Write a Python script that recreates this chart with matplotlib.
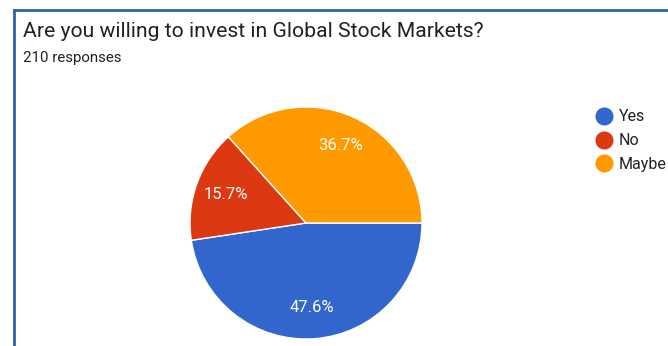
import matplotlib.pyplot as plt
from matplotlib.lines import Line2D

# survey results (210 responses)
answers = ['Yes', 'No', 'Maybe']
counts = [100, 33, 77]
colours = ['#3366CC', '#DC3912', '#FF9900']

plt.rcParams['font.family'] = ['Roboto', 'DejaVu Sans']

W, H = 668, 346
fig = plt.figure(figsize=(W / 100, H / 100), dpi=100)

# card border (left and top edges)
fig.add_artist(Line2D([14 / W, 14 / W], [0, 1 - 10 / H], color='#2f62a6', lw=2))
fig.add_artist(Line2D([14 / W, 1], [1 - 10 / H, 1 - 10 / H], color='#2f62a6', lw=2))

fig.text(23 / W, 1 - 37 / H, 'Are you willing to invest in Global Stock Markets?',
         fontsize=15.2, color='#202124')
fig.text(23 / W, 1 - 62 / H, '210 responses', fontsize=10.8, color='#202124')

# pie: centre (306, 223), radius 116 px
cx, cy, r = 306, 223, 116
ax = fig.add_axes([(cx - r) / W, (H - cy - r) / H, 2 * r / W, 2 * r / H])
wedges, texts, autotexts = ax.pie(counts, colors=colours, startangle=0, counterclock=False,
                                  autopct='%1.1f%%', pctdistance=0.73, radius=1,
                                  wedgeprops=dict(edgecolor='white', linewidth=1))
for t in autotexts:
    t.set_color('white')
    t.set_fontsize(12)
ax.set_xlim(-1, 1)
ax.set_ylim(-1, 1)
ax.axis('off')

handles = [Line2D([], [], marker='o', linestyle='none', markersize=12,
                  markerfacecolor=c, markeredgecolor=c) for c in colours]
fig.legend(handles, answers, loc='upper left', bbox_to_anchor=(578 / W, 1 - 95 / H),
           frameon=False, fontsize=11.5, handletextpad=0.15, labelspacing=0.55,
           handlelength=1.5, labelcolor='#202124')

fig.savefig('out.png', dpi=100)
